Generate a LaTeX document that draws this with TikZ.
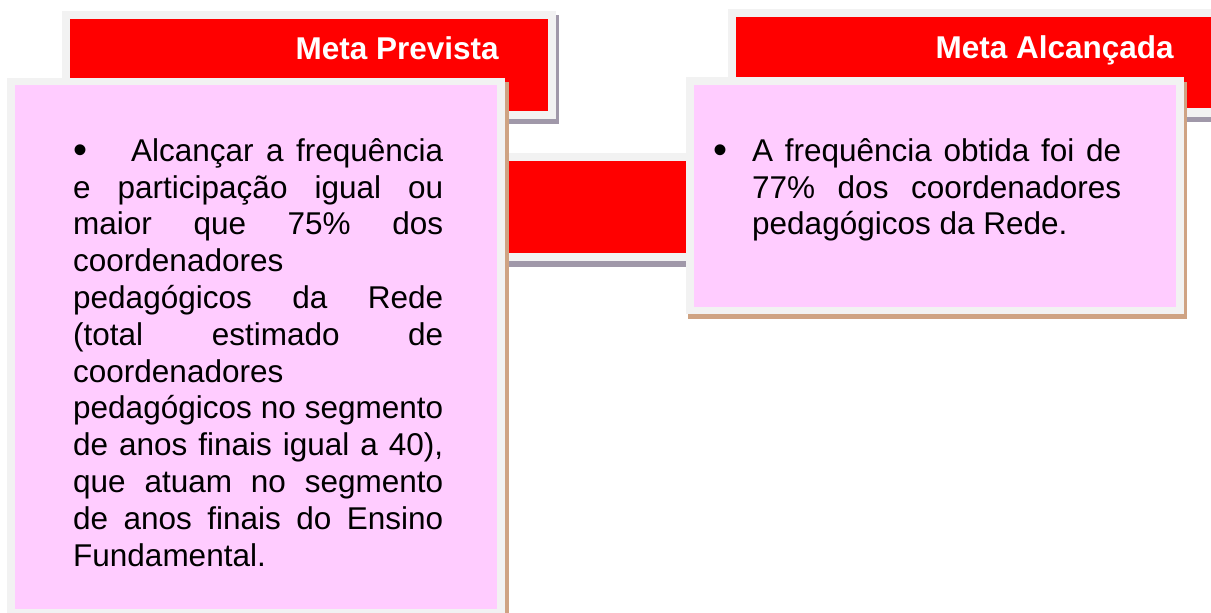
\documentclass[tikz,border=0pt]{standalone}
\usepackage{fontspec}
\setmainfont{Liberation Sans}
\definecolor{boxred}{HTML}{FF0000}
\definecolor{boxpink}{HTML}{FFCCFF}
\definecolor{framegray}{HTML}{F2F2F2}
\definecolor{redshadow}{HTML}{A098A9}
\definecolor{pinkshadow}{HTML}{CFA383}
\tikzset{
  framefill/.style={fill=framegray},
  redfill/.style={fill=boxred},
  pinkfill/.style={fill=boxpink},
  rshadow/.style={fill=redshadow},
  pshadow/.style={fill=pinkshadow},
  headtext/.style={inner sep=0pt, anchor=base east, text=white, font=\fontsize{31.5}{36}\selectfont\bfseries},
  bodytext/.style={inner sep=0pt, anchor=base west, text=black, font=\fontsize{31.5}{36.9}\selectfont},
}
\newcommand{\jline}[1]{\makebox[370pt][s]{#1}}
\newcommand{\bigbullet}{\raisebox{-2.5pt}{\fontsize{40}{40}\selectfont •}}
\begin{document}
\begin{tikzpicture}[x=1pt,y=-1pt]
\useasboundingbox (0,0) rectangle (1211,613);
\clip (0,0) rectangle (1211,613);
% middle red box (mostly hidden)
\fill[rshadow] (453,159) rectangle (753,267);
\fill[framefill] (450,153) rectangle (750,261);
\fill[redfill] (458,161) rectangle (742,253);
% left red box
\fill[rshadow] (65,15) rectangle (559,124);
\fill[framefill] (62,11) rectangle (556,119);
\fill[redfill] (70,19) rectangle (548,111);
% right red box
\fill[rshadow] (731,14) rectangle (1243,122);
\fill[framefill] (728,9) rectangle (1240,117);
\fill[redfill] (736,17) rectangle (1240,108);
% left pink box
\fill[pshadow] (10,82) rectangle (509,622);
\fill[framefill] (7,78) rectangle (505,617);
\fill[pinkfill] (15,85) rectangle (497,609);
% right pink box
\fill[pshadow] (688,82) rectangle (1187,319);
\fill[framefill] (686,77) rectangle (1184,314);
\fill[pinkfill] (694,85) rectangle (1176,307);
% headings
\node[headtext] (h1) at (499,59) {Meta Prevista};
\node[headtext] (h2) at (1174,58) {Meta Alcançada};
% left text
\node[bodytext] (l1) at (73,161) {\jline{\makebox[58pt][l]{\bigbullet}Alcançar a frequência}};
\node[bodytext] (l2) at (73,198) {\jline{e participação igual ou}};
\node[bodytext] (l3) at (73,234.5) {\jline{maior que 75\% dos}};
\node[bodytext] (l4) at (73,271.5) {coordenadores};
\node[bodytext] (l5) at (73,308) {\jline{pedagógicos da Rede}};
\node[bodytext] (l6) at (73,345) {\jline{(total estimado de}};
\node[bodytext] (l7) at (73,382) {coordenadores};
\node[bodytext] (l8) at (73,418.5) {\jline{pedagógicos no segmento}};
\node[bodytext] (l9) at (73,455.5) {\jline{de anos finais igual a 40),}};
\node[bodytext] (l10) at (73,492.5) {\jline{que atuam no segmento}};
\node[bodytext] (l11) at (73,529.5) {\jline{de anos finais do Ensino}};
\node[bodytext] (l12) at (73,566.5) {Fundamental.};
% right text
\node[bodytext] (rb) at (713,161) {\bigbullet};
\node[bodytext] (r1) at (752,161) {\makebox[369pt][s]{A frequência obtida foi de}};
\node[bodytext] (r2) at (752,198) {\makebox[369pt][s]{77\% dos coordenadores}};
\node[bodytext] (r3) at (752,234.5) {pedagógicos da Rede.};
\end{tikzpicture}
\end{document}
